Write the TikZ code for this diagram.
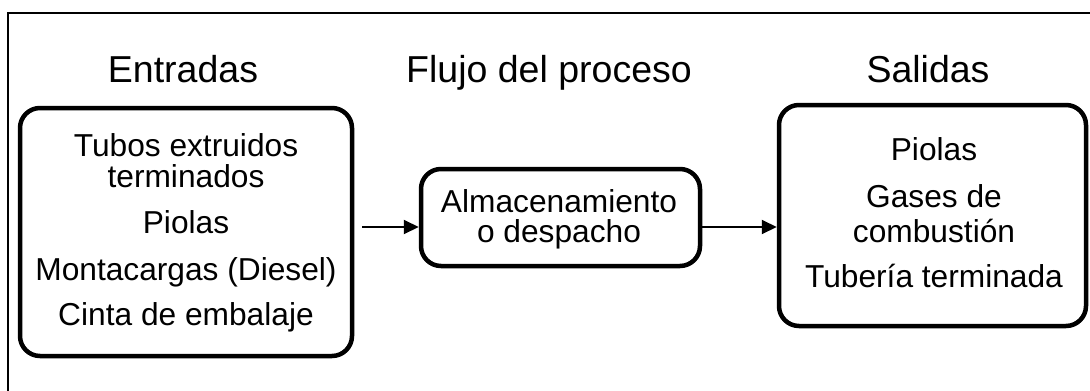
\documentclass[tikz,border=0pt]{standalone}
\usepackage{fontspec}
\setmainfont{Liberation Sans}
\usetikzlibrary{arrows.meta}
\begin{document}
\begin{tikzpicture}[x=1pt,y=-1pt,
  box/.style={draw=black, line width=4.5pt, rounded corners=20pt, inner sep=0pt, fill=white},
  title/.style={anchor=base, inner sep=0pt, font=\fontsize{37.5}{37.5}\selectfont},
  body/.style={anchor=base, inner sep=0pt, font=\fontsize{31.7}{31.7}\selectfont},
  arr/.style={line width=2pt, -{Triangle[length=15pt,width=14pt]}},
  frame/.style={draw=black, line width=1.4pt}]
\useasboundingbox (0,0) rectangle (1090,391);
\clip (0,0) rectangle (1090,391);
\fill[white] (0,0) rectangle (1090,391);
\coordinate (fr) at (8,13);
\draw[frame] (1100,13) -- (fr) -- (8,400);
% titles
\node[title] (t1) at (183,82) {Entradas};
\node[title] (t2) at (549,82) {Flujo del proceso};
\node[title] (t3) at (928,82) {Salidas};
% boxes
\node[box, minimum width=332pt, minimum height=248pt] (in) at (186,232) {};
\node[box, minimum width=279pt, minimum height=97pt] (mid) at (560.5,217.5) {};
\node[box, minimum width=307pt, minimum height=221pt] (out) at (932.5,215.5) {};
% input texts
\node[body] (i1) at (186,156) {Tubos extruidos};
\node[body] (i2) at (186,187) {terminados};
\node[body] (i3) at (186,233) {Piolas};
\node[body] (i4) at (186,280) {Montacargas (Diesel)};
\node[body] (i5) at (186,325) {Cinta de embalaje};
% middle texts
\node[body] (m1) at (559,212) {Almacenamiento};
\node[body] (m2) at (559,242) {o despacho};
% output texts
\node[body] (o1) at (934,160) {Piolas};
\node[body] (o2) at (934,207) {Gases de};
\node[body] (o3) at (934,242) {combustión};
\node[body] (o4) at (934,287) {Tubería terminada};
% arrows
\coordinate (a1s) at ([xshift=8pt]in.east |- 0,227);
\draw[arr] (a1s) -- (mid.west |- a1s);
\draw[arr] (mid.east |- 0,227) -- (out.west |- 0,227);
\end{tikzpicture}
\end{document}
